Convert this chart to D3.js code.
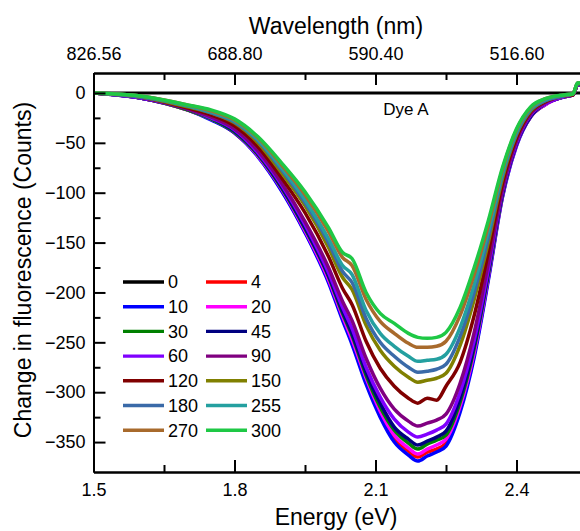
<!DOCTYPE html>
<html>
<head>
<meta charset="utf-8">
<script src="https://cdn.jsdelivr.net/npm/d3@7"></script>
<style>
  body { margin: 0; background: #fff; }
  svg { display: block; font-family: "Liberation Sans", Arial, sans-serif; }
</style>
</head>
<body>
<svg id="chart" width="580" height="531"></svg>
<script>
// energy grid (eV) shared by every trace
const energy = [1.50, 1.60, 1.70, 1.75, 1.80, 1.85, 1.90, 1.95, 2.00, 2.03, 2.05, 2.08, 2.11, 2.14, 2.17, 2.19,
  2.21, 2.23, 2.25, 2.28, 2.31, 2.34, 2.37, 2.40, 2.43, 2.46, 2.50, 2.52, 2.53, 2.56]

// change in fluorescence (counts), one list per time point
const t0 = [0, 0, 0, 0, 0, 0, 0, 0, 0, 0, 0, 0, 0, 0, 0, 0, 0, 0, 0, 0, 0, 0, 0, 0, 0, 0, 0, 0, 0, 0]
const t4 = [0, -5, -17, -26, -40, -63, -97, -139, -188, -226, -249, -289, -322, -346, -359, -365,
  -360, -357, -351, -317, -262, -186, -104, -52, -24, -12, -4, -2, 8, 10]
const t10 = [0, -5, -17, -27, -40, -64, -98, -140, -190, -228, -252, -292, -325, -350, -363, -369,
  -364, -360, -354, -320, -265, -188, -105, -53, -24, -12, -4, -2, 8, 10]
const t20 = [0, -5, -17, -26, -39, -63, -96, -138, -187, -224, -247, -286, -319, -343, -356, -362,
  -357, -353, -347, -314, -260, -184, -103, -52, -23, -12, -4, -2, 8, 10]
const t30 = [0, -5, -17, -26, -39, -62, -95, -136, -184, -221, -243, -283, -315, -338, -351, -357,
  -352, -348, -343, -310, -256, -182, -102, -51, -23, -11, -4, -2, 8, 10]
const t45 = [0, -5, -16, -25, -38, -61, -94, -135, -183, -219, -241, -280, -311, -335, -347, -353,
  -349, -345, -339, -306, -253, -180, -101, -51, -23, -11, -4, -2, 8, 10]
const t60 = [0, -5, -16, -25, -37, -60, -92, -132, -180, -215, -236, -275, -305, -327, -340, -345,
  -342, -338, -332, -300, -248, -177, -99, -50, -22, -11, -4, -2, 8, 10]
const t90 = [0, -4, -16, -24, -36, -58, -90, -129, -175, -209, -228, -266, -296, -317, -329, -334,
  -331, -328, -322, -291, -240, -171, -97, -48, -21, -10, -3, -2, 9, 10]
const t120 = [0, -4, -15, -22, -33, -54, -85, -120, -164, -196, -212, -249, -276, -294, -306, -311,
  -306, -308, -294, -270, -223, -160, -91, -45, -19, -9, -3, -2, 9, 10]
const t150 = [0, -4, -14, -20, -30, -50, -80, -113, -155, -185, -197, -233, -258, -274, -285, -290,
  -288, -286, -281, -253, -207, -150, -86, -42, -18, -8, -3, -1, 9, 11]
const t180 = [0, -4, -13, -20, -29, -48, -77, -110, -150, -179, -190, -226, -250, -264, -275, -280,
  -279, -277, -272, -244, -200, -145, -83, -41, -17, -8, -3, -1, 9, 11]
const t255 = [0, -3, -13, -19, -28, -47, -75, -107, -146, -173, -182, -218, -241, -254, -264, -269,
  -268, -267, -262, -235, -192, -139, -81, -39, -16, -7, -2, -1, 10, 11]
const t270 = [0, -3, -12, -18, -27, -45, -72, -102, -139, -165, -173, -207, -229, -241, -251, -255,
  -255, -254, -249, -223, -182, -133, -77, -37, -15, -6, -2, -1, 10, 11]
const t300 = [0, -3, -12, -17, -26, -44, -70, -99, -135, -160, -166, -200, -221, -231, -241, -245,
  -246, -245, -240, -215, -175, -128, -75, -36, -14, -6, -2, -1, 10, 11]

const seriesNames = ['0', '4', '10', '20', '30', '45', '60', '90', '120', '150', '180', '255', '270', '300']
const seriesValues = [t0, t4, t10, t20, t30, t45, t60, t90, t120, t150, t180, t255, t270, t300]
const seriesColors = ['#000000', '#ff0000', '#0000ff', '#ff00ff', '#008000', '#000080', '#8000ff',
  '#800080', '#800000', '#808000', '#3a6aa8', '#24a0a0', '#a86a2c', '#1ec845']

// axis ticks
const energyTicks = [1.5, 1.8, 2.1, 2.4]
const energyLabels = ['1.5', '1.8', '2.1', '2.4']
const energyMinor = [1.65, 1.95, 2.25, 2.55]
const wavelengthLabels = ['826.56', '688.80', '590.40', '516.60']
const countTicks = [0, -50, -100, -150, -200, -250, -300, -350]
const countMinor = [-25, -75, -125, -175, -225, -275, -325]

const svg = d3.select('#chart')
const plotLeft = 93.5, plotRight = 587, plotTop = 73, plotBottom = 472

const x = d3.scaleLinear().domain([1.5, 2.55]).range([plotLeft, plotRight])
const y = d3.scaleLinear().domain([-380, 20]).range([plotBottom, plotTop])

// zero reference + traces
const line = d3.line()
  .x((d, i) => x(energy[i]))
  .y(d => y(d))
  .curve(d3.curveMonotoneX)

const plot = svg.append('g')
plot.append('clipPath').attr('id', 'clip')
  .append('rect').attr('x', plotLeft).attr('y', plotTop)
  .attr('width', plotRight - plotLeft).attr('height', plotBottom - plotTop)

plot.append('g').attr('clip-path', 'url(#clip)')
  .selectAll('path')
  .data(seriesValues)
  .join('path')
  .attr('d', line)
  .attr('fill', 'none')
  .attr('stroke', (d, i) => seriesColors[i])
  .attr('stroke-width', (d, i) => i === 0 ? 3 : 3.5)
  .attr('stroke-linejoin', 'round')

// axes
function styleAxis (g) {
  g.select('.domain').attr('stroke', '#000').attr('stroke-width', 2)
  g.selectAll('.tick line').attr('stroke', '#000').attr('stroke-width', 2)
  g.selectAll('.tick text').attr('fill', '#000').attr('font-size', 18)
    .attr('font-family', '"Liberation Sans", Arial, sans-serif')
}

svg.append('g').attr('transform', `translate(0,${plotBottom})`)
  .call(d3.axisBottom(x).tickValues(energyTicks).tickFormat((d, i) => energyLabels[i])
    .tickSizeInner(-12).tickSizeOuter(0).tickPadding(11))
  .call(styleAxis)
svg.append('g').attr('transform', `translate(0,${plotBottom})`)
  .call(d3.axisBottom(x).tickValues(energyMinor).tickFormat('').tickSizeInner(-7).tickSizeOuter(0))
  .call(styleAxis)

svg.append('g').attr('transform', `translate(0,${plotTop})`)
  .call(d3.axisTop(x).tickValues(energyTicks).tickFormat((d, i) => wavelengthLabels[i])
    .tickSizeInner(-12).tickSizeOuter(0).tickPadding(13))
  .call(styleAxis)
svg.append('g').attr('transform', `translate(0,${plotTop})`)
  .call(d3.axisTop(x).tickValues(energyMinor).tickFormat('').tickSizeInner(-7).tickSizeOuter(0))
  .call(styleAxis)

svg.append('g').attr('transform', `translate(${plotLeft},0)`)
  .call(d3.axisLeft(y).tickValues(countTicks).tickFormat(d3.format('d'))
    .tickSizeInner(-12).tickSizeOuter(0).tickPadding(8))
  .call(styleAxis)
svg.append('g').attr('transform', `translate(${plotLeft},0)`)
  .call(d3.axisLeft(y).tickValues(countMinor).tickFormat('').tickSizeInner(-7).tickSizeOuter(0))
  .call(styleAxis)

// titles
svg.append('text').attr('x', 336).attr('y', 525).attr('text-anchor', 'middle')
  .attr('font-size', 23).text('Energy (eV)')
svg.append('text').attr('x', 336).attr('y', 34).attr('text-anchor', 'middle')
  .attr('font-size', 23).text('Wavelength (nm)')
svg.append('text').attr('transform', 'translate(31,270) rotate(-90)').attr('text-anchor', 'middle')
  .attr('font-size', 23).text('Change in fluorescence (Counts)')
svg.append('text').attr('x', 406).attr('y', 115).attr('text-anchor', 'middle')
  .attr('font-size', 17).text('Dye A')

// legend, two columns
const legend = svg.append('g')
seriesNames.forEach((name, i) => {
  const col = i % 2, row = Math.floor(i / 2)
  const lx = col === 0 ? 123 : 206
  const ly = 282 + row * 24.7
  legend.append('line').attr('x1', lx).attr('x2', lx + 41).attr('y1', ly).attr('y2', ly)
    .attr('stroke', seriesColors[i]).attr('stroke-width', 3.4)
  legend.append('text').attr('x', lx + 45).attr('y', ly).attr('dy', '0.35em')
    .attr('font-size', 18).text(name)
})
</script>
</body>
</html>
